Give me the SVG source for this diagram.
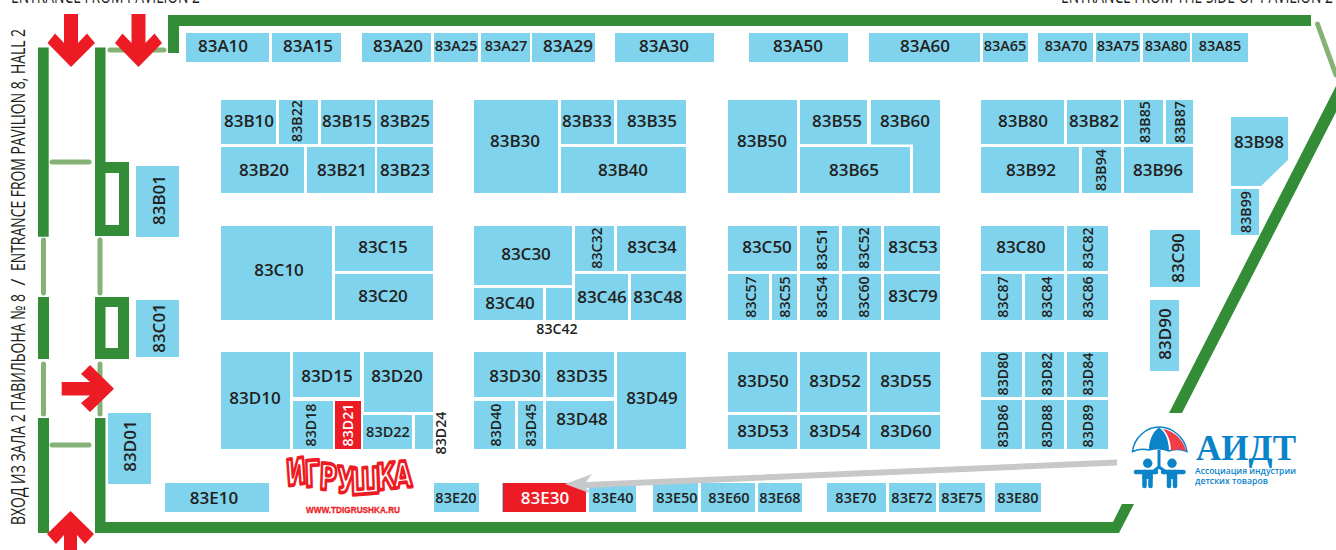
<svg xmlns="http://www.w3.org/2000/svg" width="1336" height="550" viewBox="0 0 1336 550">
<style>
text{font-family:"Open Sans","Noto Sans","DejaVu Sans",sans-serif;font-weight:600;fill:#231f20;text-anchor:middle;font-size:17px}
.s{font-size:14.5px}
.r{font-size:14.2px}
.w{fill:#fff}
rect.b,polygon.b{fill:#7fd3ed}
.h{fill:#338c36}
.t{fill:none;stroke:#84b276;stroke-width:5;stroke-linecap:round}
.a{fill:#ed1c24}
.cap{font-weight:400;font-size:20px;text-anchor:start}
.lb{fill:#0a83c9}
.ls{fill:none;stroke:#0a83c9}
</style>
<g id="walls">
<path class="h" d="M38 47.500H48.700V236.700H38ZM38 297H49V359H38ZM38 418H49V533H38Z"/>
<path class="h" fill-rule="evenodd" d="M95 47.500H105.500V162H129V236H95ZM105.500 173V225H119V173Z"/>
<path class="h" fill-rule="evenodd" d="M95 297H129V359H95ZM105.500 307V348H118V307Z"/>
<path class="h" d="M95 418H105.500V522H1113L1122 504H1134L1119 533H95Z"/>
<path class="h" d="M168 53V15H1311V26H179V53Z"/>
<polygon class="h" points="1169,413 1336,86 1336,112 1182,413"/>
<path class="t" d="M110 50H164M52 162H89M52 445H89M43.500 240V293M100 240V293M43.500 364V414M100 364V414M1317.500 24L1336 75"/>
</g>
<g id="arrows">
<polygon class="a" points="64,14 78,14 78,43 87,33.500 95,43 71,67 47.500,43 55,33.500 64,43"/>
<polygon class="a" points="131.500,14 145.500,14 145.500,43 154.500,33.500 162,43 138.500,67 115,43 122.500,33.500 131.500,43"/>
<polygon class="a" points="61.700,382 90,382 81,374 90,365 114,388.700 90,412 81,403 90,395.500 61.700,395.500"/>
<polygon class="a" points="70.500,511 94,534 85,544 77,535 77,550 64,550 64,535 56,544 47,534"/>
</g>
<g id="captions">
<text class="cap" x="11" y="3" textLength="189" lengthAdjust="spacingAndGlyphs">ENTRANCE FROM PAVILION 2</text>
<text class="cap" x="1061" y="3" textLength="272" lengthAdjust="spacingAndGlyphs">ENTRANCE FROM THE SIDE OF PAVILION 2</text>
<text class="cap" transform="translate(25 525) rotate(-90)" x="0" y="0"><tspan x="0" textLength="231" lengthAdjust="spacingAndGlyphs">ВХОД ИЗ ЗАЛА 2 ПАВИЛЬОНА № 8</tspan><tspan x="234"> / </tspan><tspan x="254" textLength="242" lengthAdjust="spacingAndGlyphs">ENTRANCE FROM PAVILION 8, HALL 2</tspan></text>
</g>
<g id="n83A10"><rect class="b" x="186" y="33" width="83" height="29"/><text x="223" y="52">83A10</text></g>
<g id="n83A15"><rect class="b" x="272" y="33" width="69" height="29"/><text x="308" y="52">83A15</text></g>
<g id="n83A20"><rect class="b" x="362" y="33" width="69" height="29"/><text x="398" y="52">83A20</text></g>
<g id="n83A25"><rect class="b" x="434" y="33" width="44" height="29"/><text class="s" x="456" y="51">83A25</text></g>
<g id="n83A27"><rect class="b" x="481" y="33" width="49" height="29"/><text class="s" x="506" y="51">83A27</text></g>
<g id="n83A29"><rect class="b" x="532" y="33" width="63" height="29"/><text x="568" y="52">83A29</text></g>
<g id="n83A30"><rect class="b" x="615" y="33" width="99" height="29"/><text x="664" y="52">83A30</text></g>
<g id="n83A50"><rect class="b" x="749" y="33" width="99" height="29"/><text x="798" y="52">83A50</text></g>
<g id="n83A60"><rect class="b" x="869" y="33" width="111" height="29"/><text x="925" y="52">83A60</text></g>
<g id="n83A65"><rect class="b" x="983" y="33" width="45" height="29"/><text class="s" x="1005" y="51">83A65</text></g>
<g id="n83A70"><rect class="b" x="1038" y="33" width="55" height="29"/><text class="s" x="1066" y="51">83A70</text></g>
<g id="n83A75"><rect class="b" x="1096" y="33" width="44" height="29"/><text class="s" x="1118" y="51">83A75</text></g>
<g id="n83A80"><rect class="b" x="1143" y="33" width="47" height="29"/><text class="s" x="1166" y="51">83A80</text></g>
<g id="n83A85"><rect class="b" x="1192" y="33" width="56" height="29"/><text class="s" x="1220" y="51">83A85</text></g>

<g id="n83B10"><rect class="b" x="221" y="100" width="55" height="44"/><text x="249" y="127">83B10</text></g>
<g id="n83B22"><rect class="b" x="279" y="100" width="39" height="44"/><text class="r" transform="rotate(-90 297 121)" x="297" y="126">83B22</text></g>
<g id="n83B15"><rect class="b" x="321" y="100" width="54" height="44"/><text x="347" y="127">83B15</text></g>
<g id="n83B25"><rect class="b" x="377" y="100" width="56" height="44"/><text x="405" y="127">83B25</text></g>
<g id="n83B20"><rect class="b" x="221" y="147" width="83" height="46"/><text x="264" y="176">83B20</text></g>
<g id="n83B21"><rect class="b" x="307" y="147" width="68" height="46"/><text x="342" y="176">83B21</text></g>
<g id="n83B23"><rect class="b" x="377" y="147" width="56" height="46"/><text x="405" y="176">83B23</text></g>
<g id="n83B30"><rect class="b" x="474" y="100" width="84" height="93"/><text x="515" y="147">83B30</text></g>
<g id="n83B33"><rect class="b" x="561" y="100" width="53" height="44"/><text x="587" y="127">83B33</text></g>
<g id="n83B35"><rect class="b" x="617" y="100" width="69" height="44"/><text x="652" y="127">83B35</text></g>
<g id="n83B40"><rect class="b" x="561" y="147" width="125" height="46"/><text x="623" y="176">83B40</text></g>
<g id="n83B50"><rect class="b" x="728" y="100" width="69" height="93"/><text x="762" y="147">83B50</text></g>
<g id="n83B55"><rect class="b" x="800" y="100" width="67" height="44"/><text x="837" y="127">83B55</text></g>
<g id="n83B60"><polygon class="b" points="871,100 940,100 940,193 913,193 913,144.500 871,144.500"/><text x="905" y="127">83B60</text></g>
<g id="n83B65"><rect class="b" x="800" y="147" width="110" height="46"/><text x="854" y="176">83B65</text></g>
<g id="n83B80"><rect class="b" x="981" y="100" width="83" height="44"/><text x="1023" y="127">83B80</text></g>
<g id="n83B82"><rect class="b" x="1067" y="100" width="54" height="44"/><text x="1094" y="127">83B82</text></g>
<g id="n83B85"><rect class="b" x="1124" y="100" width="39" height="44"/><text class="r" transform="rotate(-90 1145 122)" x="1145" y="127">83B85</text></g>
<g id="n83B87"><rect class="b" x="1166" y="100" width="27" height="44"/><text class="r" transform="rotate(-90 1180 122)" x="1180" y="127">83B87</text></g>
<g id="n83B92"><rect class="b" x="981" y="147" width="98" height="46"/><text x="1031" y="176">83B92</text></g>
<g id="n83B94"><rect class="b" x="1082" y="147" width="39" height="46"/><text class="r" transform="rotate(-90 1101 170)" x="1101" y="175">83B94</text></g>
<g id="n83B96"><rect class="b" x="1124" y="147" width="69" height="46"/><text x="1158" y="176">83B96</text></g>
<g id="n83B98"><polygon class="b" points="1231,117 1288,117 1288,160 1261,186 1231,186"/><text x="1259" y="148">83B98</text></g>
<g id="n83B99"><rect class="b" x="1231" y="189" width="28" height="46"/><text class="r" transform="rotate(-90 1246 212)" x="1246" y="217">83B99</text></g>
<g id="n83B01"><rect class="b" x="136" y="166" width="43" height="71"/><text transform="rotate(-90 159 200)" x="159" y="206">83B01</text></g>
<g id="n83C01"><rect class="b" x="136" y="300" width="43" height="57"/><text transform="rotate(-90 159 328)" x="159" y="334">83C01</text></g>
<g id="n83D01"><rect class="b" x="108" y="413" width="43" height="71"/><text transform="rotate(-90 130 446)" x="130" y="452">83D01</text></g>
<g id="n83C90"><rect class="b" x="1150" y="230" width="50" height="57"/><text transform="rotate(-90 1178 258)" x="1178" y="264">83C90</text></g>
<g id="n83D90"><rect class="b" x="1150" y="300" width="29" height="71"/><text transform="rotate(-90 1165 334)" x="1165" y="340">83D90</text></g>

<g id="n83C10"><rect class="b" x="221" y="226" width="111" height="94"/><text x="279" y="276">83C10</text></g>
<g id="n83C15"><rect class="b" x="335" y="226" width="98" height="45"/><text x="383" y="253">83C15</text></g>
<g id="n83C20"><rect class="b" x="335" y="274" width="98" height="46"/><text x="383" y="302">83C20</text></g>
<g id="n83C30"><rect class="b" x="474" y="226" width="98" height="59"/><text x="526" y="260">83C30</text></g>
<g id="n83C32"><rect class="b" x="575" y="226" width="39" height="45"/><text class="r" transform="rotate(-90 597 248)" x="597" y="253">83C32</text></g>
<g id="n83C34"><rect class="b" x="617" y="226" width="69" height="45"/><text x="652" y="253">83C34</text></g>
<g id="n83C40"><rect class="b" x="474" y="288" width="69" height="32"/><text x="510" y="309">83C40</text></g>
<g id="n83C42"><rect class="b" x="546" y="288" width="26" height="32"/><text class="r" x="557" y="334">83C42</text></g>
<g id="n83C46"><rect class="b" x="575" y="274" width="53" height="46"/><text x="602" y="303">83C46</text></g>
<g id="n83C48"><rect class="b" x="631" y="274" width="55" height="46"/><text x="658" y="303">83C48</text></g>
<g id="n83C50"><rect class="b" x="728" y="226" width="69" height="45"/><text x="767" y="253">83C50</text></g>
<g id="n83C51"><rect class="b" x="800" y="226" width="39" height="45"/><text class="r" transform="rotate(-90 822 249)" x="822" y="254">83C51</text></g>
<g id="n83C52"><rect class="b" x="842" y="226" width="39" height="45"/><text class="r" transform="rotate(-90 864 248)" x="864" y="253">83C52</text></g>
<g id="n83C53"><rect class="b" x="884" y="226" width="56" height="45"/><text x="913" y="253">83C53</text></g>
<g id="n83C57"><rect class="b" x="728" y="274" width="41" height="46"/><text class="r" transform="rotate(-90 751 297)" x="751" y="302">83C57</text></g>
<g id="n83C55"><rect class="b" x="772" y="274" width="25" height="46"/><text class="r" transform="rotate(-90 785 297)" x="785" y="302">83C55</text></g>
<g id="n83C54"><rect class="b" x="800" y="274" width="39" height="46"/><text class="r" transform="rotate(-90 822 297)" x="822" y="302">83C54</text></g>
<g id="n83C60"><rect class="b" x="842" y="274" width="39" height="46"/><text class="r" transform="rotate(-90 864 297)" x="864" y="302">83C60</text></g>
<g id="n83C79"><rect class="b" x="884" y="274" width="56" height="46"/><text x="913" y="302">83C79</text></g>
<g id="n83C80"><rect class="b" x="981" y="226" width="83" height="45"/><text x="1021" y="253">83C80</text></g>
<g id="n83C82"><rect class="b" x="1067" y="226" width="41" height="45"/><text class="r" transform="rotate(-90 1088 248)" x="1088" y="253">83C82</text></g>
<g id="n83C87"><rect class="b" x="981" y="274" width="41" height="46"/><text class="r" transform="rotate(-90 1003 297)" x="1003" y="302">83C87</text></g>
<g id="n83C84"><rect class="b" x="1025" y="274" width="39" height="46"/><text class="r" transform="rotate(-90 1047 297)" x="1047" y="302">83C84</text></g>
<g id="n83C86"><rect class="b" x="1067" y="274" width="41" height="46"/><text class="r" transform="rotate(-90 1088 297)" x="1088" y="302">83C86</text></g>

<g id="n83D10"><rect class="b" x="221" y="352" width="69" height="97"/><text x="255" y="404">83D10</text></g>
<g id="n83D15"><rect class="b" x="293" y="352" width="67" height="45"/><text x="327" y="382">83D15</text></g>
<g id="n83D20"><rect class="b" x="364" y="352" width="69" height="60"/><text x="397" y="382">83D20</text></g>
<g id="n83D18"><rect class="b" x="293" y="401" width="40" height="48"/><text class="r" transform="rotate(-90 311 425)" x="311" y="430">83D18</text></g>
<g id="n83D21"><rect class="a" x="335" y="401" width="26" height="48"/><text class="r w" transform="rotate(-90 348 425)" x="348" y="430">83D21</text></g>
<g id="n83D22"><rect class="b" x="363" y="415" width="49" height="34"/><text class="s" x="388" y="437">83D22</text></g>
<g id="n83D24"><rect class="b" x="415" y="415" width="18" height="34"/><text class="r" transform="rotate(-90 441 433)" x="441" y="438">83D24</text></g>
<g id="n83D30"><rect class="b" x="474" y="352" width="69" height="45"/><text x="515" y="382">83D30</text></g>
<g id="n83D35"><rect class="b" x="546" y="352" width="68" height="45"/><text x="582" y="382">83D35</text></g>
<g id="n83D49"><rect class="b" x="617" y="352" width="69" height="97"/><text x="652" y="404">83D49</text></g>
<g id="n83D40"><rect class="b" x="474" y="401" width="41" height="48"/><text class="r" transform="rotate(-90 496 425)" x="496" y="430">83D40</text></g>
<g id="n83D45"><rect class="b" x="518" y="401" width="25" height="48"/><text class="r" transform="rotate(-90 531 425)" x="531" y="430">83D45</text></g>
<g id="n83D48"><rect class="b" x="546" y="401" width="68" height="48"/><text x="582" y="425">83D48</text></g>
<g id="n83D50"><rect class="b" x="728" y="352" width="69" height="60"/><text x="763" y="387">83D50</text></g>
<g id="n83D52"><rect class="b" x="800" y="352" width="67" height="60"/><text x="835" y="387">83D52</text></g>
<g id="n83D55"><rect class="b" x="870" y="352" width="70" height="60"/><text x="906" y="387">83D55</text></g>
<g id="n83D53"><rect class="b" x="728" y="415" width="69" height="34"/><text x="763" y="437">83D53</text></g>
<g id="n83D54"><rect class="b" x="800" y="415" width="67" height="34"/><text x="835" y="437">83D54</text></g>
<g id="n83D60"><rect class="b" x="870" y="415" width="70" height="34"/><text x="906" y="437">83D60</text></g>
<g id="n83D80"><rect class="b" x="981" y="352" width="41" height="45"/><text class="r" transform="rotate(-90 1003 374)" x="1003" y="379">83D80</text></g>
<g id="n83D82"><rect class="b" x="1025" y="352" width="39" height="45"/><text class="r" transform="rotate(-90 1047 374)" x="1047" y="379">83D82</text></g>
<g id="n83D84"><rect class="b" x="1067" y="352" width="41" height="45"/><text class="r" transform="rotate(-90 1088 374)" x="1088" y="379">83D84</text></g>
<g id="n83D86"><rect class="b" x="981" y="400" width="41" height="49"/><text class="r" transform="rotate(-90 1003 426)" x="1003" y="431">83D86</text></g>
<g id="n83D88"><rect class="b" x="1025" y="400" width="39" height="49"/><text class="r" transform="rotate(-90 1047 426)" x="1047" y="431">83D88</text></g>
<g id="n83D89"><rect class="b" x="1067" y="400" width="41" height="49"/><text class="r" transform="rotate(-90 1088 426)" x="1088" y="431">83D89</text></g>

<g id="n83E10"><rect class="b" x="165" y="483" width="104" height="29"/><text x="214" y="504">83E10</text></g>
<g id="n83E20"><rect class="b" x="434" y="483" width="45" height="29"/><text class="s" x="456" y="503">83E20</text></g>
<g id="n83E30"><rect class="b" x="502" y="483" width="10" height="29"/><rect class="a" x="503" y="483" width="83" height="29"/><text class="w" x="545" y="504">83E30</text></g>
<g id="n83E40"><rect class="b" x="589" y="483" width="47" height="29"/><text class="s" x="613" y="503">83E40</text></g>
<g id="n83E50"><rect class="b" x="653" y="483" width="45" height="29"/><text class="s" x="677" y="503">83E50</text></g>
<g id="n83E60"><rect class="b" x="701" y="483" width="54" height="29"/><text class="s" x="729" y="503">83E60</text></g>
<g id="n83E68"><rect class="b" x="758" y="483" width="44" height="29"/><text class="s" x="780" y="503">83E68</text></g>
<g id="n83E70"><rect class="b" x="827" y="483" width="59" height="29"/><text class="s" x="856" y="503">83E70</text></g>
<g id="n83E72"><rect class="b" x="889" y="483" width="47" height="29"/><text class="s" x="912" y="503">83E72</text></g>
<g id="n83E75"><rect class="b" x="939" y="483" width="46" height="29"/><text class="s" x="962" y="503">83E75</text></g>
<g id="n83E80"><rect class="b" x="995" y="483" width="46" height="29"/><text class="s" x="1018" y="503">83E80</text></g>

<g id="connectors">
<polygon fill="#c7c8ca" points="565,484 592,474 586,482 1117,459.500 1117,465.500 586,488 592,494"/>
</g>
<g id="logo-igrushka">
<text transform="scale(1 1.500)" x="287 305 319 336 351 377 394" y="324 324.700 326 328 330 326.700 325.300" rotate="-6 -3 3 4 -3 -4 -3" style="font-family:'DejaVu Sans',sans-serif;font-weight:700;font-size:24px;fill:#fff;stroke:#ed1c24;stroke-width:2.500;stroke-linejoin:round;text-anchor:start">ИГРУШКА</text>
<text x="353" y="512.500" textLength="94" lengthAdjust="spacingAndGlyphs" style="font-family:'Liberation Sans',sans-serif;font-weight:700;font-size:9.500px;fill:#ed1c24;stroke:#ed1c24;stroke-width:.3">WWW.TDIGRUSHKA.RU</text>
</g>
<g id="logo-aidt">
<path d="M1132.500 451.500C1134 438 1146 427 1159 427C1173 427 1185 438 1187 451.500Q1178 448 1169 451Q1159 447 1149 450Q1141 448 1132.500 451.500Z" fill="#fff" stroke="#0a83c9" stroke-width="1.500"/>
<path class="lb" d="M1159 427.500C1152 432 1149 442 1149 450Q1159 447 1169 451C1169 442 1166 432 1159 427.500Z"/>
<path fill="#ef3e4a" d="M1163 429C1175 431 1184 441 1186 451Q1178 448 1171 451C1171 442 1168 434 1163 429Z"/>
<path class="ls" stroke-width="3" d="M1159 450V467L1150 474M1159 467L1169 474"/>
<g id="child-left"><circle class="lb" cx="1147.700" cy="463.300" r="4.700"/><path class="ls" stroke-width="4.500" stroke-linecap="round" d="M1136 472H1156"/><path class="ls" stroke-width="4.500" stroke-linecap="round" d="M1144.500 472V486M1150.500 472V486"/><rect class="lb" x="1142.500" y="470" width="10" height="9"/></g>
<g id="child-right"><circle class="lb" cx="1172" cy="463.300" r="4.700"/><path class="ls" stroke-width="4.500" stroke-linecap="round" d="M1163 472H1183.500"/><path class="ls" stroke-width="4.500" stroke-linecap="round" d="M1169 472V486M1175 472V486"/><rect class="lb" x="1167" y="470" width="10" height="9"/></g>
<text class="lb" x="1196" y="460" textLength="100" lengthAdjust="spacingAndGlyphs" style="font-family:'Liberation Serif',serif;font-weight:700;font-size:36px;text-anchor:start">АИДТ</text>
<text class="lb" x="1195" y="474" textLength="101" lengthAdjust="spacingAndGlyphs" style="font-size:8.500px;text-anchor:start">Ассоциация индустрии</text>
<text class="lb" x="1195" y="484" textLength="73" lengthAdjust="spacingAndGlyphs" style="font-size:8.500px;text-anchor:start">детских товаров</text>
</g>
</svg>
